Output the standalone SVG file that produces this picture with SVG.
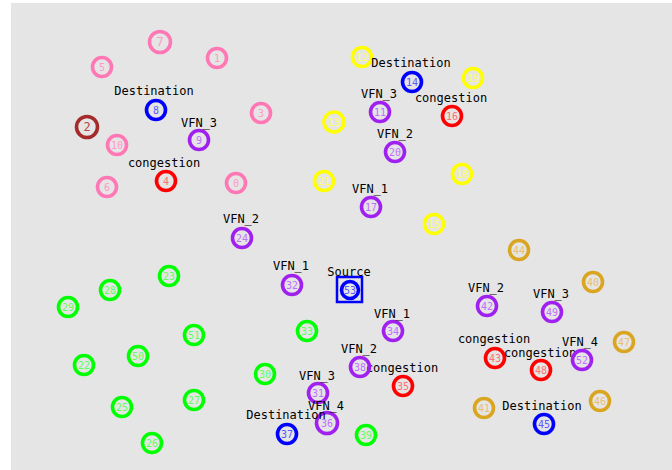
<svg xmlns="http://www.w3.org/2000/svg" width="672" height="470" viewBox="0 0 672 470">
<style>
.n{fill:none;stroke-width:3.6}
.t{font-family:"DejaVu Sans Mono","Liberation Mono",monospace;font-size:10px;text-anchor:middle}
.l{font-family:"DejaVu Sans Mono","Liberation Mono",monospace;font-size:12px;text-anchor:middle;fill:#000}
.pk .n{stroke:#ff77b4}.pk .t{fill:#ff99c8}
.br .n{stroke:#a52a2a}.br .t{fill:#b84848}
.bl .n{stroke:#0000ff}.bl .t{fill:#5a5aff}
.pu .n{stroke:#a020f0}.pu .t{fill:#c070ff}
.rd .n{stroke:#ff0000}.rd .t{fill:#ff7070}
.ye .n{stroke:#ffff00}.ye .t{fill:#ffff60}
.gr .n{stroke:#00ff00}.gr .t{fill:#60ff60}
.or .n{stroke:#daa520}.or .t{fill:#eac070}
</style>
<rect x="0" y="0" width="672" height="470" fill="#ffffff"/>
<rect x="11" y="3" width="661" height="467" fill="#e5e5e5"/>
<g id="connectors"/>
<g id="n0" class="pk"><circle class="n" cx="236" cy="183" r="9.5"/><text class="t" x="236" y="186.5">0</text></g>
<g id="n1" class="pk"><circle class="n" cx="217" cy="58" r="9.5"/><text class="t" x="217" y="61.5">1</text></g>
<g id="n2" class="br"><circle class="n" cx="87" cy="127" r="10.5"/><text class="t" x="87" y="131" style="font-size:12px">2</text></g>
<g id="n3" class="pk"><circle class="n" cx="261" cy="113" r="9.5"/><text class="t" x="261" y="116.5">3</text></g>
<g id="n4" class="rd"><circle class="n" cx="166" cy="181" r="9.5"/><text class="t" x="166" y="184.5">4</text><text class="l" x="164" y="167">congestion</text></g>
<g id="n5" class="pk"><circle class="n" cx="102" cy="67" r="9.5"/><text class="t" x="102" y="70.5">5</text></g>
<g id="n6" class="pk"><circle class="n" cx="107" cy="187" r="9.5"/><text class="t" x="107" y="190.5">6</text></g>
<g id="n7" class="pk"><circle class="n" cx="160" cy="42" r="10.5"/><text class="t" x="160" y="46" style="font-size:12px">7</text></g>
<g id="n8" class="bl"><circle class="n" cx="156" cy="110" r="9.5"/><text class="t" x="156" y="113.5">8</text><text class="l" x="154" y="95">Destination</text></g>
<g id="n9" class="pu"><circle class="n" cx="199" cy="140" r="9.5"/><text class="t" x="199" y="143.5">9</text><text class="l" x="199" y="127">VFN_3</text></g>
<g id="n10" class="pk"><circle class="n" cx="117" cy="145" r="9.5"/><text class="t" x="117" y="148.5">10</text></g>
<g id="n11" class="pu"><circle class="n" cx="380" cy="112" r="9.5"/><text class="t" x="380" y="115.5">11</text><text class="l" x="379" y="98">VFN_3</text></g>
<g id="n12" class="ye"><circle class="n" cx="362" cy="57" r="9.5"/><text class="t" x="362" y="60.5">12</text></g>
<g id="n13" class="ye"><circle class="n" cx="334" cy="122" r="10"/><text class="t" x="334" y="125.5">13</text></g>
<g id="n14" class="bl"><circle class="n" cx="412" cy="82" r="9.5"/><text class="t" x="412" y="85.5">14</text><text class="l" x="411" y="67">Destination</text></g>
<g id="n15" class="ye"><circle class="n" cx="434" cy="224" r="9.5"/><text class="t" x="434" y="227.5">15</text></g>
<g id="n16" class="rd"><circle class="n" cx="452" cy="116" r="9.5"/><text class="t" x="452" y="119.5">16</text><text class="l" x="451" y="102">congestion</text></g>
<g id="n17" class="pu"><circle class="n" cx="371" cy="207" r="9.5"/><text class="t" x="371" y="210.5">17</text><text class="l" x="370" y="193">VFN_1</text></g>
<g id="n18" class="ye"><circle class="n" cx="462" cy="174" r="9.5"/><text class="t" x="462" y="177.5">18</text></g>
<g id="n19" class="ye"><circle class="n" cx="473" cy="78" r="9.5"/><text class="t" x="473" y="81.5">19</text></g>
<g id="n20" class="pu"><circle class="n" cx="395" cy="152" r="9.5"/><text class="t" x="395" y="155.5">20</text><text class="l" x="395" y="138">VFN_2</text></g>
<g id="n21" class="ye"><circle class="n" cx="324" cy="181" r="9.5"/><text class="t" x="324" y="184.5">21</text></g>
<g id="n22" class="gr"><circle class="n" cx="84" cy="365" r="9.5"/><text class="t" x="84" y="368.5">22</text></g>
<g id="n23" class="gr"><circle class="n" cx="169" cy="276" r="9.5"/><text class="t" x="169" y="279.5">23</text></g>
<g id="n24" class="pu"><circle class="n" cx="242" cy="238" r="9.5"/><text class="t" x="242" y="241.5">24</text><text class="l" x="241" y="223">VFN_2</text></g>
<g id="n25" class="gr"><circle class="n" cx="122" cy="407" r="9.5"/><text class="t" x="122" y="410.5">25</text></g>
<g id="n26" class="gr"><circle class="n" cx="152" cy="443" r="9.5"/><text class="t" x="152" y="446.5">26</text></g>
<g id="n27" class="gr"><circle class="n" cx="194" cy="400" r="9.5"/><text class="t" x="194" y="403.5">27</text></g>
<g id="n28" class="gr"><circle class="n" cx="110" cy="290" r="9.5"/><text class="t" x="110" y="293.5">28</text></g>
<g id="n29" class="gr"><circle class="n" cx="68" cy="307" r="9.5"/><text class="t" x="68" y="310.5">29</text></g>
<g id="n30" class="gr"><circle class="n" cx="265" cy="374" r="9.5"/><text class="t" x="265" y="377.5">30</text></g>
<g id="n31" class="pu"><circle class="n" cx="318" cy="393" r="9.5"/><text class="t" x="318" y="396.5">31</text><text class="l" x="317" y="380">VFN_3</text></g>
<g id="n32" class="pu"><circle class="n" cx="292" cy="285" r="9.5"/><text class="t" x="292" y="288.5">32</text><text class="l" x="291" y="270">VFN_1</text></g>
<g id="n33" class="gr"><circle class="n" cx="307" cy="331" r="9.5"/><text class="t" x="307" y="334.5">33</text></g>
<g id="n34" class="pu"><circle class="n" cx="393" cy="331" r="9.5"/><text class="t" x="393" y="334.5">34</text><text class="l" x="392" y="318">VFN_1</text></g>
<g id="n35" class="rd"><circle class="n" cx="403" cy="386" r="9.5"/><text class="t" x="403" y="389.5">35</text><text class="l" x="402" y="372">congestion</text></g>
<g id="n36" class="pu"><circle class="n" cx="327" cy="423" r="10.5"/><text class="t" x="327" y="426.5">36</text><text class="l" x="326" y="410">VFN_4</text></g>
<g id="n37" class="bl"><circle class="n" cx="287" cy="434" r="9.5"/><text class="t" x="287" y="437.5">37</text><text class="l" x="286" y="419">Destination</text></g>
<g id="n38" class="pu"><circle class="n" cx="360" cy="367" r="9.5"/><text class="t" x="360" y="370.5">38</text><text class="l" x="359" y="353">VFN_2</text></g>
<g id="n39" class="gr"><circle class="n" cx="366" cy="435" r="9.5"/><text class="t" x="366" y="438.5">39</text></g>
<g id="n40" class="or"><circle class="n" cx="593" cy="282" r="9.5"/><text class="t" x="593" y="285.5">40</text></g>
<g id="n41" class="or"><circle class="n" cx="484" cy="408" r="9.5"/><text class="t" x="484" y="411.5">41</text></g>
<g id="n42" class="pu"><circle class="n" cx="487" cy="306" r="9.5"/><text class="t" x="487" y="309.5">42</text><text class="l" x="486" y="292">VFN_2</text></g>
<g id="n43" class="rd"><circle class="n" cx="495" cy="358" r="9.5"/><text class="t" x="495" y="361.5">43</text><text class="l" x="494" y="343">congestion</text></g>
<g id="n44" class="or"><circle class="n" cx="519" cy="250" r="9.5"/><text class="t" x="519" y="253.5">44</text></g>
<g id="n45" class="bl"><circle class="n" cx="544" cy="424" r="9.5"/><text class="t" x="544" y="427.5">45</text><text class="l" x="542" y="410">Destination</text></g>
<g id="n46" class="or"><circle class="n" cx="600" cy="401" r="9.5"/><text class="t" x="600" y="404.5">46</text></g>
<g id="n47" class="or"><circle class="n" cx="624" cy="342" r="9.5"/><text class="t" x="624" y="345.5">47</text></g>
<g id="n48" class="rd"><circle class="n" cx="541" cy="370" r="9.5"/><text class="t" x="541" y="373.5">48</text><text class="l" x="540" y="357">congestion</text></g>
<g id="n49" class="pu"><circle class="n" cx="552" cy="312" r="9.5"/><text class="t" x="552" y="315.5">49</text><text class="l" x="551" y="298">VFN_3</text></g>
<g id="n50" class="gr"><circle class="n" cx="138" cy="356" r="9.5"/><text class="t" x="138" y="359.5">50</text></g>
<g id="n51" class="gr"><circle class="n" cx="194" cy="335" r="9.5"/><text class="t" x="194" y="338.5">51</text></g>
<g id="n52" class="pu"><circle class="n" cx="582" cy="360" r="9.5"/><text class="t" x="582" y="363.5">52</text><text class="l" x="580" y="346">VFN_4</text></g>
<g id="n53" class="bl"><rect x="337" y="277" width="25" height="25" fill="none" stroke="#0000ff" stroke-width="2.5"/><circle class="n" cx="350" cy="290" r="8.5"/><text class="t" x="350" y="293.5">53</text><text class="l" x="349" y="276">Source</text></g>
</svg>
